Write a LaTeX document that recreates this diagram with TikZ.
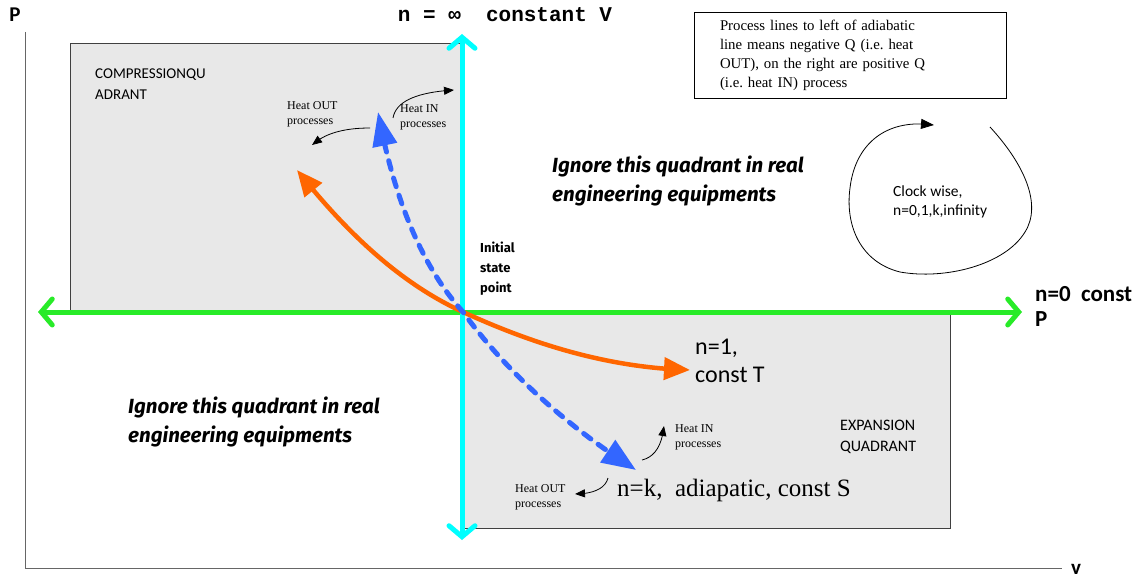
\documentclass[tikz,border=0pt]{standalone}
\usepackage{fontspec}
\setmainfont{Carlito}
\newfontfamily\garafont{Liberation Serif}
\newfontfamily\courfont{Liberation Mono}
\newfontfamily\ignorefont{Fira Sans}
\usetikzlibrary{arrows.meta, positioning, bending}
\definecolor{pgreen}{RGB}{40,235,40}
\definecolor{vcyan}{RGB}{0,255,255}
\definecolor{sblue}{RGB}{51,102,255}
\definecolor{torange}{RGB}{255,102,0}
\definecolor{quadgray}{RGB}{232,232,232}
\frenchspacing

\begin{document}
\begin{tikzpicture}[x=1pt, y=-1pt,
        quadrant/.style={draw=black!75, fill=quadgray, line width=0.8pt},
        quadlabel/.style={anchor=north west, align=left, inner sep=0pt, font=\fontsize{15}{21}\selectfont},
        axis/.style={draw=black!60, line width=1pt},
        axislabel/.style={inner sep=0pt, font=\fontsize{21}{24}\selectfont\bfseries},
        constp/.style={draw=pgreen, line width=5pt, {Straight Barb[length=11pt,width=26pt,line cap=round]}-{Straight Barb[length=11pt,width=26pt,line cap=round]}},
        constv/.style={draw=vcyan, line width=5pt, {Straight Barb[length=11pt,width=26pt,line cap=round]}-{Straight Barb[length=11pt,width=26pt,line cap=round]}},
        constt/.style={draw=torange, line width=4.5pt, {Triangle[length=26pt,width=22pt,flex]}-{Triangle[length=26pt,width=22pt,flex]}},
        consts/.style={draw=sblue, line width=5pt, dash pattern=on 9pt off 9pt, line cap=round, {Triangle[length=34pt,width=24pt,flex]}-{Triangle[length=34pt,width=26pt,flex]}},
        heatarrow/.style={draw, line width=0.8pt, -{Triangle[length=10pt,width=8pt]}},
        heatlabel/.style={anchor=north west, align=left, inner sep=0pt, font=\garafont\fontsize{12}{15}\selectfont},
        ignore/.style={anchor=north west, align=left, inner sep=0pt, font=\ignorefont\fontsize{20.5}{29}\selectfont\bfseries\itshape},
        notebox/.style={draw, line width=0.8pt, align=left, text width=260pt, inner xsep=26pt, minimum height=86pt, font=\garafont\fontsize{14.8}{19}\selectfont},
        cyclearrow/.style={draw, line width=0.8pt, -{Triangle[length=13pt,width=10pt]}}
        ]
        \useasboundingbox (0,0) rectangle (1143,578);

        % Quadrants
        \draw[quadrant] (70,43) rectangle (460,310);
        \draw[quadrant] (463,311) rectangle (950,528);
        \node (complbl) [quadlabel] at (95,69) {COMPRESSIONQU\\ADRANT};
        \node (explbl) [quadlabel, font=\fontsize{16}{21}\selectfont] at (840,420) {EXPANSION\\QUADRANT};

        % Axes
        \coordinate (ptop) at (25,32);
        \coordinate (origin) at (25,568);
        \coordinate (vend) at (1062,568);
        \draw[axis] (ptop) -- (origin) -- (vend);
        \node (plbl) [axislabel] at (15,15) {P};
        \node (vlbl) [axislabel] at (1076,569) {v};

        % Initial state point
        \coordinate (init) at (463,312);
        \node (initlbl) [anchor=north west, align=left, inner sep=0pt, font=\ignorefont\fontsize{13}{20}\selectfont\bfseries] at (480,242) {Initial\\state\\point};

        % Constant P and constant V lines
        \coordinate (gleft) at (38,312);
        \coordinate (gright) at (1022,312);
        \draw[constp] (gleft) -- (gright);
        \coordinate (ctop) at (462,34);
        \coordinate (cbot) at (462,540);
        \draw[constv] (ctop) -- (cbot);
        \node (nzero) [anchor=north west, align=left, inner sep=0pt, font=\fontsize{23}{25}\selectfont\bfseries] at (1035,286) {n=0\ \ const\\P};
        \node (ninf) [inner sep=0pt, font=\courfont\fontsize{21}{22}\selectfont\bfseries] at (505,15) {n = ∞\ \ constant V};

        % Isotherm and adiabat
        \coordinate (tstart) at (297,170);
        \coordinate (tend) at (690,370);
        \draw[constt] (tstart) .. controls (360,250) and (415,290) .. (init) .. controls (535,345) and (610,368) .. (tend);
        \coordinate (sstart) at (378,112);
        \coordinate (send) at (636,470);
        \draw[consts] (sstart) .. controls (395,205) and (425,270) .. (init) .. controls (505,370) and (565,425) .. (send);
        \node (nonelbl) [anchor=north west, align=left, inner sep=0pt, font=\fontsize{24}{28}\selectfont] at (695,339) {n=1,\\const T};
        \node (nklbl) [anchor=north west, inner sep=0pt, font=\garafont\fontsize{25}{26}\selectfont] at (617,479) {n=k,\ \ adiapatic, const S};

        % Heat in / heat out
        \node (houttop) [heatlabel] at (287,101) {Heat OUT\\processes};
        \node (hintop) [heatlabel] at (400,104) {Heat IN\\processes};
        \node (hinbot) [heatlabel] at (675,424) {Heat IN\\processes};
        \node (houtbot) [heatlabel] at (515,484) {Heat OUT\\processes};
        \coordinate (hota) at (370,128);
        \coordinate (hotb) at (312,145);
        \draw[heatarrow] (hota) .. controls (345,128) and (325,133) .. (hotb);
        \coordinate (hita) at (393,118);
        \coordinate (hitb) at (454,90);
        \draw[heatarrow] (hita) .. controls (396,100) and (420,92) .. (hitb);
        \coordinate (hiba) at (642,460);
        \coordinate (hibb) at (664,426);
        \draw[heatarrow] (hiba) .. controls (655,457) and (662,445) .. (hibb);
        \coordinate (hoba) at (608,478);
        \coordinate (hobb) at (575,494);
        \draw[heatarrow] (hoba) .. controls (605,490) and (590,494) .. (hobb);

        % Ignore notes
        \node (ignoretop) [ignore] at (552,156) {Ignore this quadrant in real\\engineering equipments};
        \node (ignorebot) [ignore] at (128,397) {Ignore this quadrant in real\\engineering equipments};

        % Sign convention note
        \node (note) [notebox] at (850,55) {Process lines to left of adiabatic\\line means negative Q (i.e. heat\\OUT), on the right are positive Q\\(i.e. heat IN) process};

        % Clockwise cycle
        \coordinate (cycstart) at (990,127);
        \coordinate (cycend) at (934,125);
        \draw[cyclearrow] (cycstart) .. controls (1025,165) and (1042,205) .. (1025,232) .. controls (1005,265) and (945,280) .. (900,272) .. controls (860,262) and (845,225) .. (850,188) .. controls (855,145) and (885,118) .. (cycend);
        \node (cyclbl) [anchor=north west, align=left, inner sep=0pt, font=\fontsize{15.5}{19}\selectfont] at (893,186) {Clock wise,\\n=0,1,k,infinity};
\end{tikzpicture}
\end{document}
